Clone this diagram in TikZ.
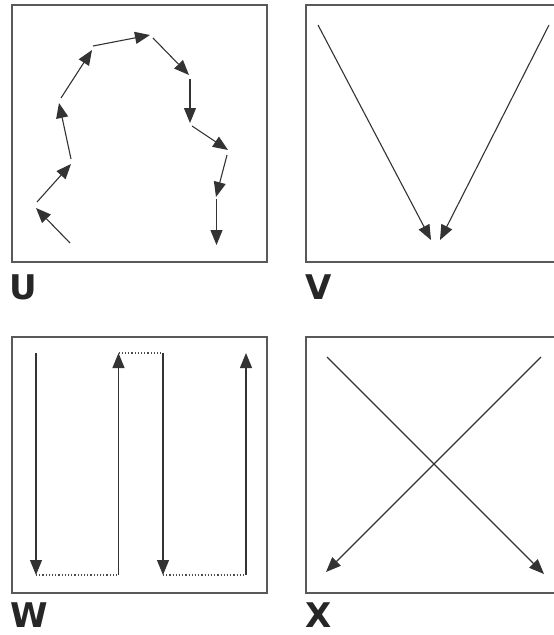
\documentclass[tikz,border=0pt]{standalone}
\usepackage{fontspec}
\setmainfont{DejaVu Sans}
\usetikzlibrary{arrows.meta}
\tikzset{
  frame/.style={draw=black!65, line width=1.3pt},
  arr/.style={draw=black!80, line width=1.1pt, -{Triangle[length=15pt,width=12pt]}},
  dots/.style={draw=black!70, line width=1.2pt, dotted},
  lbl/.style={anchor=base west, inner sep=0pt, font=\fontsize{34}{34}\selectfont\bfseries, text=black!85}
}
\begin{document}
\begin{tikzpicture}[x=1pt,y=-1pt]
\useasboundingbox (0,0) rectangle (554,635);
% frames
\draw[frame] (12,5) rectangle (267,262);
\draw[frame] (556,5) -- (306,5) -- (306,262) -- (556,262);
\draw[frame] (12,337) rectangle (267,593);
\draw[frame] (556,337) -- (306,337) -- (306,593) -- (556,593);
% labels
\node[lbl] (lu) at (9,299) {U};
\node[lbl] (lv) at (305,299) {V};
\node[lbl] (lw) at (10,627) {W};
\node[lbl] (lx) at (305,627) {X};
% U path
\coordinate (u1s) at (70,243);   \coordinate (u1e) at (36,208);
\coordinate (u2s) at (37,202);   \coordinate (u2e) at (71,164);
\coordinate (u3s) at (71,159);   \coordinate (u3e) at (59,103);
\coordinate (u4s) at (61,98);    \coordinate (u4e) at (92,50);
\coordinate (u5s) at (93,46);    \coordinate (u5e) at (150,35);
\coordinate (u6s) at (153,38);   \coordinate (u6e) at (189,75);
\coordinate (u7s) at (190,79);   \coordinate (u7e) at (190,123);
\coordinate (u8s) at (192,126);  \coordinate (u8e) at (228,150);
\coordinate (u9s) at (227,155);  \coordinate (u9e) at (216,197);
\coordinate (u10s) at (216.5,199); \coordinate (u10e) at (216.5,245);
\foreach \i in {1,...,10} {\draw[arr] (u\i s) -- (u\i e);}
% V
\coordinate (v1s) at (318,25);  \coordinate (v1e) at (431,240);
\coordinate (v2s) at (549,25);  \coordinate (v2e) at (440,240);
\draw[arr] (v1s) -- (v1e);
\draw[arr] (v2s) -- (v2e);
% W
\coordinate (w1t) at (36,353);  \coordinate (w1b) at (36,575);
\coordinate (w2t) at (118.5,353); \coordinate (w2b) at (118.5,575);
\coordinate (w3t) at (163,353); \coordinate (w3b) at (163,575);
\coordinate (w4t) at (246,353); \coordinate (w4b) at (246,575);
\draw[arr] (w1t) -- (w1b);
\draw[arr] (w2b) -- (w2t);
\draw[arr] (w3t) -- (w3b);
\draw[arr] (w4b) -- (w4t);
\draw[dots] (w1b) -- (w2b);
\draw[dots] (w2t) -- (w3t);
\draw[dots] (w3b) -- (w4b);
% X
\coordinate (x1s) at (327,357); \coordinate (x1e) at (544,574);
\coordinate (x2s) at (541,357); \coordinate (x2e) at (326,572);
\draw[arr] (x1s) -- (x1e);
\draw[arr] (x2s) -- (x2e);
\end{tikzpicture}
\end{document}
